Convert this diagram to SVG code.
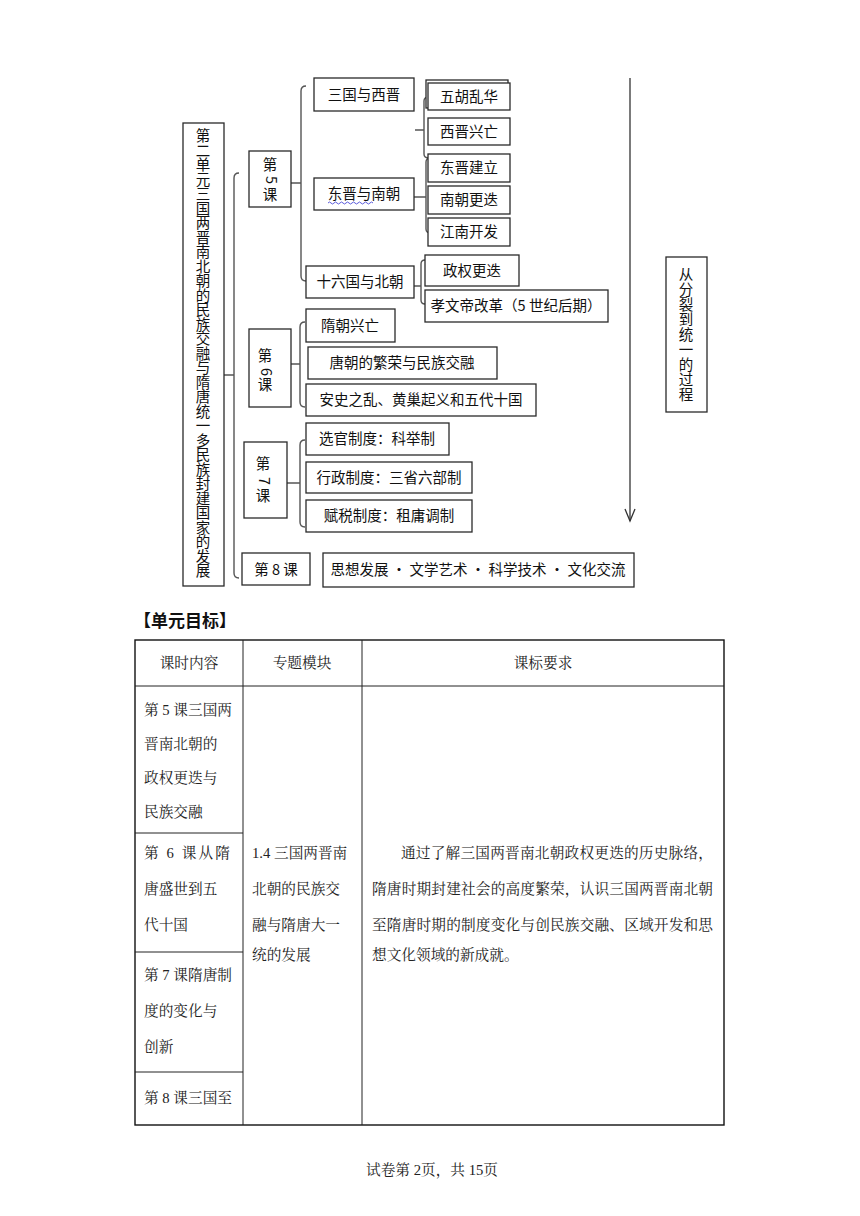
<svg xmlns="http://www.w3.org/2000/svg" width="860" height="1216" viewBox="0 0 860 1216">
<style>
.bx{fill:#fff;stroke:#2a2a2a;stroke-width:1.3}
.br{fill:none;stroke:#555;stroke-width:1.4}
.t{font-family:"Noto Sans CJK SC","Liberation Sans",sans-serif;font-size:14.5px;fill:#111}
.tc{text-anchor:middle}
.tb{font-family:"Liberation Serif","Noto Serif CJK SC","Noto Sans CJK SC",serif;font-size:14.67px;fill:#222}
.tl{stroke:#222;stroke-width:1;fill:none}
</style>
<rect width="860" height="1216" fill="#fff"/>

<g id="connectors">
<path class="br" d="M239,173 Q234,173 234,178 V573 Q234,578 239,578 M224,375 H234"/>
<path class="br" d="M306,86 Q301,86 301,91 V276 Q301,281 306,281 M291,183 H301"/>
<path class="br" d="M429,97 Q424,97 424,101 V154 Q424,158 429,158 M415,130 H424"/>
<path class="br" d="M431,158 Q426,158 426,162 V229 Q426,233 431,233 M414,197 H426"/>
<path class="br" d="M425,260 Q421,260 421,264 V300 Q421,304 425,304 M414,286 H421"/>
<path class="br" d="M305,322 Q300,322 300,327 V402 Q300,407 305,407 M290,364 H300"/>
<path class="br" d="M305,440 Q300,440 300,445 V522 Q300,527 305,527 M287,483 H300"/>
<path d="M630,78 V521" stroke="#333" stroke-width="1.3" fill="none"/>
<path d="M625,509 L630,521 L635,509" stroke="#333" stroke-width="1.3" fill="none"/>
</g>

<g id="unit">
<rect class="bx" x="183" y="123" width="41" height="463"/>
<text class="t tc" font-size="14" x="203 203 203 203 203 203 203 203 203 203 203 203 203 203 203 203 203 203 203 203 203 203 203 203 203 203 203 203 203 203 203" y="141 155.5 170 184.5 199 213.5 228 242.5 257 271.5 286 300.5 315 329.5 344 358.5 373 387.5 402 416.5 431 445.5 460 474.5 489 503.5 518 532.5 547 561.5 576">第二单元三国两晋南北朝的民族交融与隋唐统一多民族封建国家的发展</text>
</g>

<g id="lesson5">
<rect class="bx" x="249" y="151" width="42" height="56"/>
<text class="t tc" x="270" y="170">第</text>
<text class="t tc" font-size="12" transform="translate(270,180) rotate(90)" y="4">5</text>
<text class="t tc" x="270" y="200">课</text>
</g>
<g id="sanguo"><rect class="bx" x="314" y="78" width="100" height="33"/><text class="t tc" x="364" y="100">三国与西晋</text></g>
<g id="dongjin"><rect class="bx" x="314" y="178" width="100" height="32"/><text class="t tc" x="364" y="199">东晋与南朝</text>
<path d="M328,203 q1.5,-2 3,0 t3,0 t3,0 t3,0 t3,0 t3,0 t3,0 t3,0 t3,0 t3,0 t3,0 t3,0 t3,0 t3,0 t3,0" fill="none" stroke="#4a4ad8" stroke-width="0.9"/></g>
<g id="shiliuguo"><rect class="bx" x="306" y="266" width="108" height="32"/><text class="t tc" x="360" y="287">十六国与北朝</text></g>

<g id="wuhu"><rect class="bx" x="426" y="80" width="82" height="28"/><rect class="bx" x="428" y="83" width="82" height="27"/><text class="t tc" x="469" y="102">五胡乱华</text></g>
<g id="xijin"><rect class="bx" x="428" y="118" width="82" height="27"/><text class="t tc" x="469" y="137">西晋兴亡</text></g>
<g id="dongjinjianli"><rect class="bx" x="428" y="154" width="82" height="28"/><text class="t tc" x="469" y="173">东晋建立</text></g>
<g id="nanchao"><rect class="bx" x="428" y="186" width="82" height="28"/><text class="t tc" x="469" y="205">南朝更迭</text></g>
<g id="jiangnan"><rect class="bx" x="428" y="218" width="82" height="28"/><text class="t tc" x="469" y="237">江南开发</text></g>
<g id="zhengquan"><rect class="bx" x="425" y="255" width="94" height="31"/><text class="t tc" x="472" y="276">政权更迭</text></g>
<g id="xiaowen"><rect class="bx" x="425" y="290" width="183" height="32"/><text class="t tc" x="516" y="311">孝文帝改革（5 世纪后期）</text></g>

<g id="lesson6">
<rect class="bx" x="249" y="329" width="42" height="78"/>
<text class="t tc" x="265" y="361">第</text>
<text class="t tc" font-size="12" transform="translate(265,372) rotate(90)" y="4">6</text>
<text class="t tc" x="265" y="390">课</text>
</g>
<g id="suichao"><rect class="bx" x="306" y="309" width="89" height="33"/><text class="t tc" x="350" y="331">隋朝兴亡</text></g>
<g id="tangchao"><rect class="bx" x="308" y="347" width="189" height="32"/><text class="t tc" x="402" y="368">唐朝的繁荣与民族交融</text></g>
<g id="anshi"><rect class="bx" x="306" y="384" width="230" height="32"/><text class="t tc" x="421" y="405">安史之乱、黄巢起义和五代十国</text></g>

<g id="lesson7">
<rect class="bx" x="244" y="442" width="43" height="76"/>
<text class="t tc" x="263" y="469">第</text>
<text class="t tc" font-size="12" transform="translate(263,481) rotate(90)" y="4">7</text>
<text class="t tc" x="263" y="501">课</text>
</g>
<g id="xuanguan"><rect class="bx" x="306" y="423" width="143" height="32"/><text class="t tc" x="377" y="444">选官制度：科举制</text></g>
<g id="xingzheng"><rect class="bx" x="306" y="462" width="166" height="31"/><text class="t tc" x="389" y="483">行政制度：三省六部制</text></g>
<g id="fushui"><rect class="bx" x="306" y="500" width="166" height="32"/><text class="t tc" x="389" y="521">赋税制度：租庸调制</text></g>

<g id="lesson8"><rect class="bx" x="242" y="553" width="68" height="32"/><text class="t tc" x="276" y="575">第 8 课</text></g>
<g id="sixiang"><rect class="bx" x="323" y="553" width="311" height="34"/><text class="t tc" x="478" y="575">思想发展 · 文学艺术 · 科学技术 · 文化交流</text></g>

<g id="process">
<rect class="bx" x="666" y="257" width="41" height="155"/>
<text class="t tc" font-size="14" x="686 686 686 686 686 686 686 686 686" y="280 295 310 325 340 355 370 385 400">从分裂到统一的过程</text>
</g>

<text x="134" y="627" font-family="Liberation Serif,'Noto Sans CJK SC',serif" font-size="17" font-weight="bold" fill="#111">【单元目标】</text>

<g id="table">
<rect x="135" y="640" width="589" height="485" fill="none" stroke="#111" stroke-width="1.4"/>
<path class="tl" d="M135,686 H724 M243,640 V1125 M362,640 V1125 M135,833 H243 M135,952 H243 M135,1072 H243"/>
<text class="tb tc" x="189" y="668">课时内容</text>
<text class="tb tc" x="302" y="668">专题模块</text>
<text class="tb tc" x="543" y="668">课标要求</text>
<text class="tb" x="144" y="715">第 5 课三国两</text>
<text class="tb" x="144" y="749">晋南北朝的</text>
<text class="tb" x="144" y="783">政权更迭与</text>
<text class="tb" x="144" y="817">民族交融</text>
<text class="tb" x="144" y="858" textLength="86" lengthAdjust="spacing">第 6 课从隋</text>
<text class="tb" x="144" y="894">唐盛世到五</text>
<text class="tb" x="144" y="930">代十国</text>
<text class="tb" x="144" y="980">第 7 课隋唐制</text>
<text class="tb" x="144" y="1016">度的变化与</text>
<text class="tb" x="144" y="1052">创新</text>
<text class="tb" x="144" y="1103">第 8 课三国至</text>
<text class="tb" x="252" y="858">1.4 三国两晋南</text>
<text class="tb" x="252" y="894">北朝的民族交</text>
<text class="tb" x="252" y="930">融与隋唐大一</text>
<text class="tb" x="252" y="960">统的发展</text>
<text class="tb" x="401" y="858" textLength="312" lengthAdjust="spacing">通过了解三国两晋南北朝政权更迭的历史脉络，</text>
<text class="tb" x="372" y="894" textLength="341" lengthAdjust="spacing">隋唐时期封建社会的高度繁荣，认识三国两晋南北朝</text>
<text class="tb" x="372" y="930" textLength="341" lengthAdjust="spacing">至隋唐时期的制度变化与创民族交融、区域开发和思</text>
<text class="tb" x="372" y="960">想文化领域的新成就。</text>
</g>

<text class="tb tc" x="432" y="1175" font-size="14">试卷第 2页，共 15页</text>
</svg>
